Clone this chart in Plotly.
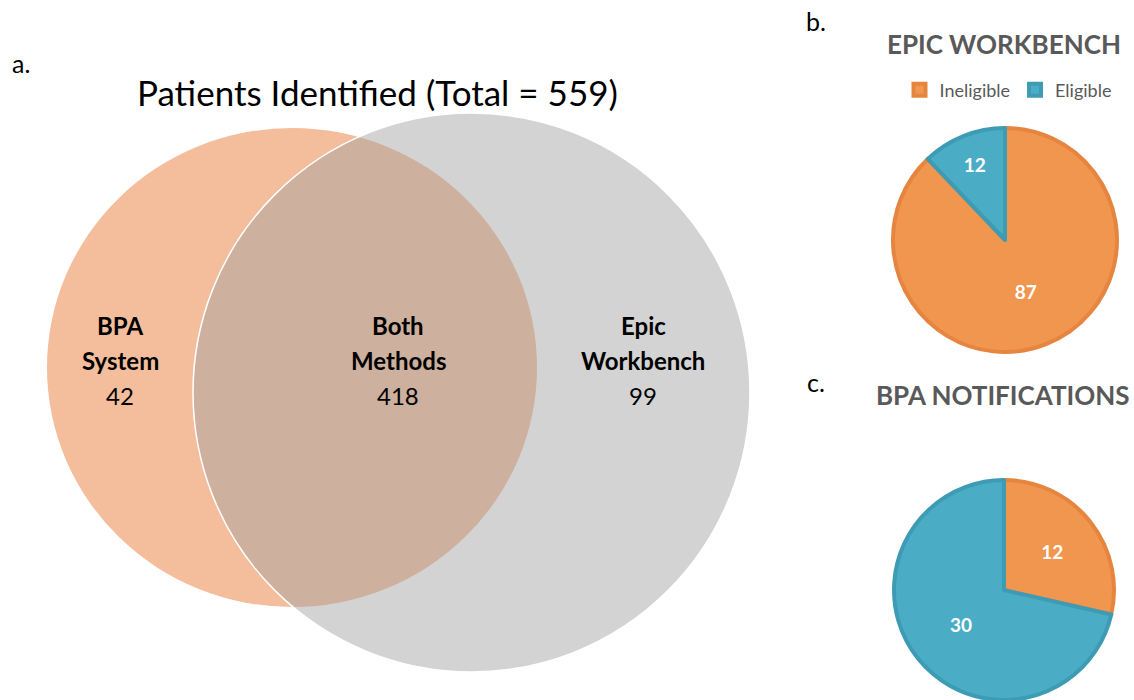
import plotly.graph_objects as go

# ---- data ----
venn_names = ["BPA System", "Both Methods", "Epic Workbench"]
venn_counts = [42, 418, 99]
venn_total = 559

pie_labels = ["Ineligible", "Eligible"]
epic_values = [87, 12]
bpa_values = [12, 30]

FONT = "Lato"
GRAY_TXT = "#595959"
fill_cols = ["#F1964F", "#4BACC6"]
line_cols = ["#E5853F", "#3E9BB4"]

fig = go.Figure()

# Venn circles (pixel-like coordinate system on a hidden axis)
fig.add_shape(type="circle", xref="x", yref="y", x0=47, x1=537, y0=128, y1=607,
              fillcolor="#F4BE9C", line=dict(width=0), layer="below")
fig.add_shape(type="circle", xref="x", yref="y", x0=193, x1=750, y0=113, y1=672,
              fillcolor="rgba(159,159,159,0.46)", line=dict(width=1.5, color="white"), layer="below")

# Venn labels
label_x = [120, 398, 643]
for name, cnt, x in zip(venn_names, venn_counts, label_x):
    w1, w2 = name.split(" ")
    for txt, y, bold in [(w1, 325, True), (w2, 360, True), (str(cnt), 395, False)]:
        fig.add_annotation(x=x, y=y, xref="x", yref="y", showarrow=False,
                           text=f"<b>{txt}</b>" if bold else txt,
                           font=dict(family=FONT, size=24, color="black"))

fig.add_trace(go.Scatter(x=[0], y=[0], mode="markers", marker=dict(opacity=0),
                         showlegend=False, hoverinfo="skip"))

# Pies
fig.add_trace(go.Pie(labels=pie_labels, values=epic_values, sort=False, direction="clockwise",
                     rotation=0, textinfo="value", textposition="inside",
                     insidetextfont=dict(family=FONT, size=19, color="white", weight="bold"),
                     marker=dict(colors=fill_cols, line=dict(color=line_cols, width=4)),
                     domain=dict(x=[893/1134, 1117/1134], y=[348/700, 572/700]),
                     legend="legend", hoverinfo="label+value"))
fig.add_trace(go.Pie(labels=pie_labels, values=bpa_values, sort=False, direction="clockwise",
                     rotation=0, textinfo="value", textposition="inside",
                     insidetextfont=dict(family=FONT, size=19, color="white", weight="bold"),
                     marker=dict(colors=fill_cols, line=dict(color=line_cols, width=4)),
                     domain=dict(x=[894/1134, 1114/1134], y=[0, 220/700]),
                     legend="legend2", hoverinfo="label+value"))

# Titles and panel letters
fig.add_annotation(x=377, y=92, xref="x", yref="y", showarrow=False,
                   text=f"Patients Identified (Total = {venn_total})",
                   font=dict(family=FONT, size=35, color="black"))
fig.add_annotation(x=1004, y=44, xref="x", yref="y", showarrow=False,
                   text="<b>EPIC WORKBENCH</b>", font=dict(family=FONT, size=26, color=GRAY_TXT))
fig.add_annotation(x=1003, y=395, xref="x", yref="y", showarrow=False,
                   text="<b>BPA NOTIFICATIONS</b>", font=dict(family=FONT, size=26, color=GRAY_TXT))
for t, x, y in [("a.", 21, 63), ("b.", 816, 21), ("c.", 816, 382)]:
    fig.add_annotation(x=x, y=y, xref="x", yref="y", showarrow=False, text=t,
                       font=dict(family=FONT, size=25, color="black"))

leg = dict(orientation="h", xanchor="center", yanchor="middle", bgcolor="rgba(0,0,0,0)",
           font=dict(family=FONT, size=18, color=GRAY_TXT), itemclick=False, itemdoubleclick=False)
fig.update_layout(
    width=1134, height=700, margin=dict(l=0, r=0, t=0, b=0),
    paper_bgcolor="white", plot_bgcolor="white",
    xaxis=dict(range=[0, 1134], domain=[0, 1], visible=False, fixedrange=True),
    yaxis=dict(range=[700, 0], domain=[0, 1], visible=False, fixedrange=True),
    legend=dict(leg, x=1008/1134, y=(700-90)/700),
    legend2=dict(leg, x=1008/1134, y=(700-442)/700),
    showlegend=True,
)
fig.write_html("out.html")
